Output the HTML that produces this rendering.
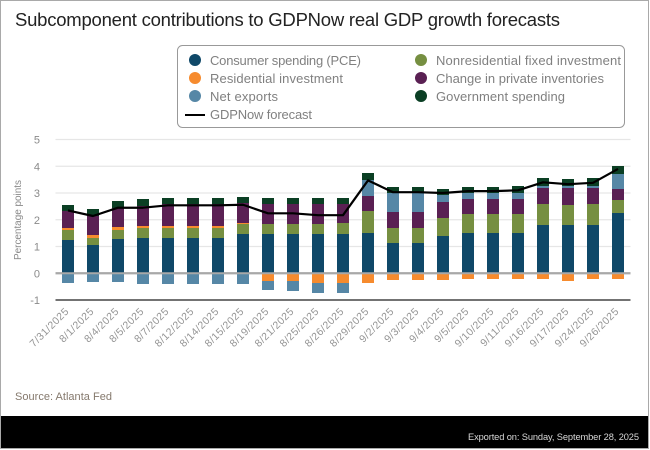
<!DOCTYPE html>
<html lang="en">
<head>
<meta charset="utf-8">
<title>Subcomponent contributions to GDPNow real GDP growth forecasts</title>
<style>
html,body{margin:0;padding:0;background:#fff;width:650px;height:450px;overflow:hidden}
svg{display:block}
text{font-family:"Liberation Sans",sans-serif}
</style>
</head>
<body>
<svg id="chart" xmlns="http://www.w3.org/2000/svg" width="650" height="450" viewBox="0 0 650 450">
  <rect x="0.5" y="0.5" width="648" height="448" fill="#fff" stroke="#a9a9a9" stroke-width="1"/>
  <text x="15" y="26" font-size="18.5" fill="#222" textLength="545" lengthAdjust="spacing">Subcomponent contributions to GDPNow real GDP growth forecasts</text>
  <g id="plot"></g>
  <g>
    <rect x="177.5" y="45.5" width="447" height="82" rx="5" fill="#fff" stroke="#999" stroke-width="1"/>
    <circle cx="195" cy="60" r="6" fill="#0f4868"/>
    <text x="210" y="65" font-size="13" fill="#808080" textLength="151" lengthAdjust="spacing">Consumer spending (PCE)</text>
    <circle cx="195" cy="78" r="6" fill="#f68b2e"/>
    <text x="210" y="83" font-size="13" fill="#808080" textLength="133" lengthAdjust="spacing">Residential investment</text>
    <circle cx="195" cy="96" r="6" fill="#5687a6"/>
    <text x="210" y="101" font-size="13" fill="#808080" textLength="68" lengthAdjust="spacing">Net exports</text>
    <line x1="185" y1="115" x2="205" y2="115" stroke="#000" stroke-width="2"/>
    <text x="210" y="119" font-size="13" fill="#808080" textLength="102" lengthAdjust="spacing">GDPNow forecast</text>
    <circle cx="421" cy="60" r="6" fill="#768f41"/>
    <text x="436" y="65" font-size="13" fill="#808080" textLength="185" lengthAdjust="spacing">Nonresidential fixed investment</text>
    <circle cx="421" cy="78" r="6" fill="#5a2053"/>
    <text x="436" y="83" font-size="13" fill="#808080" textLength="168" lengthAdjust="spacing">Change in private inventories</text>
    <circle cx="421" cy="96" r="6" fill="#0b3f24"/>
    <text x="436" y="101" font-size="13" fill="#808080" textLength="129" lengthAdjust="spacing">Government spending</text>
  </g>
  <text transform="translate(21,260) rotate(-90)" font-size="10" fill="#8a8a8a" textLength="80" lengthAdjust="spacing">Percentage points</text>
  <text x="15" y="400" font-size="11" fill="#85796d" textLength="97" lengthAdjust="spacing">Source: Atlanta Fed</text>
  <rect x="1" y="416" width="647" height="32" fill="#000"/>
  <text x="639" y="440" text-anchor="end" font-size="9.3" fill="#d8d8d8" textLength="171" lengthAdjust="spacing">Exported on: Sunday, September 28, 2025</text>
</svg>
<script>
const categories = ["7/31/2025","8/1/2025","8/4/2025","8/5/2025","8/7/2025","8/12/2025","8/14/2025","8/15/2025","8/19/2025","8/21/2025","8/25/2025","8/26/2025","8/29/2025","9/2/2025","9/3/2025","9/4/2025","9/5/2025","9/10/2025","9/11/2025","9/16/2025","9/17/2025","9/24/2025","9/26/2025"];
const yTicks = [-1,0,1,2,3,4,5];
const consumer = [1.23,1.05,1.27,1.31,1.31,1.31,1.31,1.46,1.46,1.46,1.46,1.46,1.5,1.12,1.12,1.38,1.5,1.5,1.5,1.79,1.79,1.79,2.24];
const nonresidential = [0.37,0.26,0.34,0.37,0.37,0.37,0.37,0.37,0.37,0.37,0.37,0.41,0.82,0.56,0.56,0.67,0.71,0.71,0.71,0.78,0.75,0.78,0.49];
const residential = [0.07,0.11,0.11,0.07,0.07,0.07,0.07,0.04,-0.3,-0.3,-0.37,-0.37,-0.37,-0.26,-0.26,-0.26,-0.22,-0.22,-0.22,-0.22,-0.3,-0.22,-0.22];
const inventories = [0.63,0.71,0.71,0.75,0.82,0.82,0.82,0.75,0.75,0.75,0.75,0.71,0.56,0.6,0.6,0.6,0.56,0.56,0.56,0.6,0.63,0.6,0.41];
const netExports = [-0.37,-0.34,-0.34,-0.41,-0.41,-0.41,-0.41,-0.41,-0.34,-0.37,-0.37,-0.37,0.6,0.71,0.71,0.26,0.22,0.22,0.22,0.07,0.07,0.07,0.56];
const government = [0.26,0.26,0.26,0.26,0.22,0.22,0.22,0.22,0.22,0.22,0.22,0.22,0.26,0.22,0.22,0.22,0.22,0.22,0.26,0.3,0.26,0.3,0.3];
const forecast = [2.35,2.14,2.45,2.45,2.54,2.54,2.54,2.56,2.24,2.24,2.17,2.17,3.47,3.03,3.03,3.0,3.07,3.07,3.1,3.4,3.33,3.38,3.9];

const NS = "http://www.w3.org/2000/svg";
const plot = document.getElementById("plot");
const left = 55.5, right = 630.5, bandW = (right - left) / categories.length, barW = 12;
const yTop = 139.5, yBottom = 300, yMin = -1, yMax = 5;
function xScale(i) { return left + bandW * (i + 0.5); }
function yScale(v) { return yBottom - (v - yMin) / (yMax - yMin) * (yBottom - yTop); }
function barEdge(v) { return Math.round(yScale(v) - 0.25); }
function make(tag, attrs, parent) {
  const el = document.createElementNS(NS, tag);
  for (const k in attrs) el.setAttribute(k, attrs[k]);
  parent.appendChild(el);
  return el;
}

// gridlines and y tick labels
yTicks.forEach(function (t) {
  const color = t === -1 ? "#737373" : t === 0 ? "#a8a8a8" : "#e6e6e6";
  const line = make("line", {x1: left, x2: right, y1: yScale(t), y2: yScale(t), stroke: color, "stroke-width": t <= 0 ? 2 : 1.3}, plot);
  
  
  const label = make("text", {x: 40, y: yScale(t) + 4, "text-anchor": "end", "font-size": 11, fill: "#8a8a8a"}, plot);
  
  
  label.textContent = String(t);
});

// stacked bars
const seriesList = [
  {values: consumer, color: "#0f4868"},
  {values: nonresidential, color: "#768f41"},
  {values: residential, color: "#f68b2e"},
  {values: inventories, color: "#5a2053"},
  {values: netExports, color: "#5687a6"},
  {values: government, color: "#0b3f24"}
];
categories.forEach(function (cat, i) {
  let pos = 0, neg = 0;
  seriesList.forEach(function (s) {
    const v = s.values[i];
    if (!v) return;
    const a = v > 0 ? pos : neg;
    const b = a + v;
    if (v > 0) pos = b; else neg = b;
    const rect = make("rect", {
      x: xScale(i) - barW / 2,
      y: Math.min(barEdge(a), barEdge(b)),
      width: barW,
      height: Math.abs(barEdge(a) - barEdge(b)),
      fill: s.color
    }, plot);
    
    
  });
  const cx = xScale(i) + 1.5, cy = 312;
  const tick = make("text", {
    x: cx, y: cy, "text-anchor": "end", "font-size": 10.5, "letter-spacing": 0.4, fill: "#959595",
    transform: "rotate(-45 " + cx + " " + cy + ")"
  }, plot);
  
  
  tick.textContent = cat;
});

// re-draw zero line on top of bars, as in the reference
const zeroLine = make("line", {x1: left, x2: right, y1: yScale(0), y2: yScale(0), stroke: "#a8a8a8", "stroke-width": 2}, plot);



// forecast line
const pts = forecast.map(function (v, i) { return xScale(i) + "," + yScale(v); }).join(" ");
const forecastLine = make("polyline", {points: pts, fill: "none", stroke: "#000", "stroke-width": 2.2, "stroke-linejoin": "round"}, plot);


</script>
</body>
</html>
